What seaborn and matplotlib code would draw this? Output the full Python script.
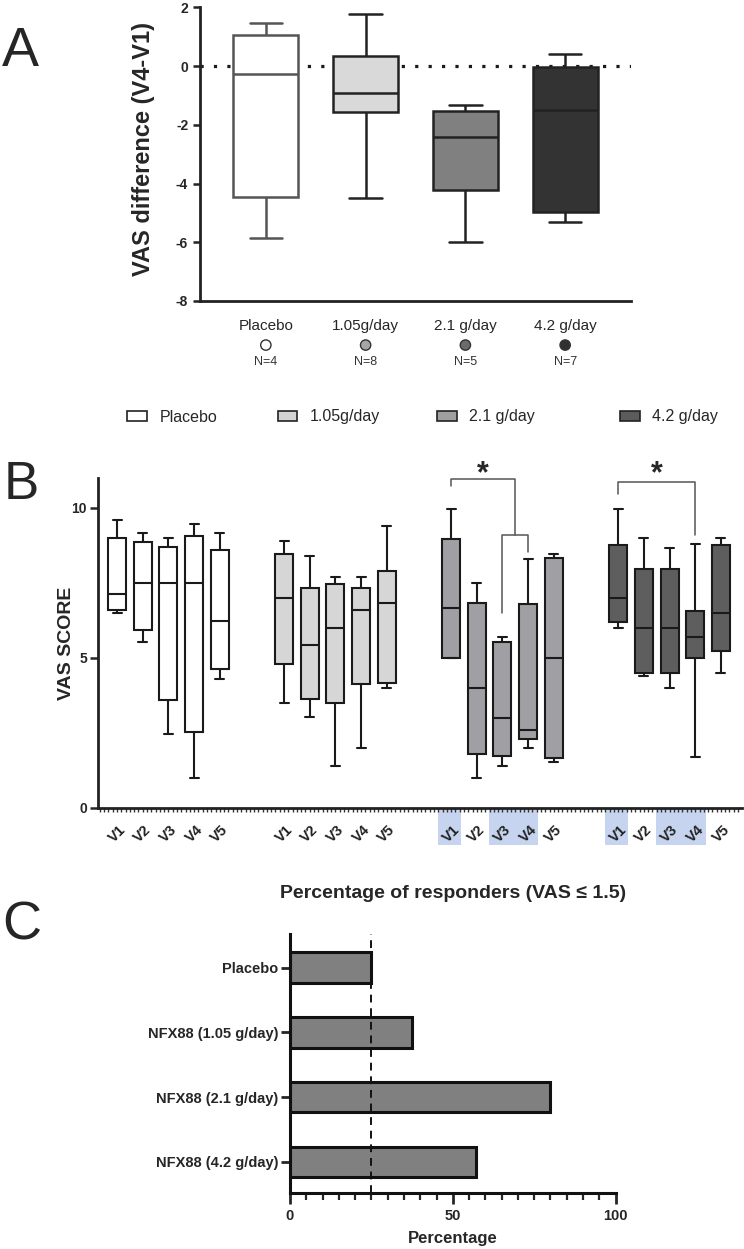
import numpy as np
import pandas as pd
import matplotlib
matplotlib.use("Agg")
import matplotlib.pyplot as plt
from matplotlib.patches import Patch, Rectangle
from matplotlib.ticker import MultipleLocator
import seaborn as sns

sns.set_theme(style="ticks")
plt.rcParams["font.family"] = ["Liberation Sans", "DejaVu Sans"]
plt.rcParams["axes.unicode_minus"] = False

# ---------------- panel A : VAS difference V4-V1 (box summaries)
groups_a = ["Placebo", "1.05g/day", "2.1 g/day", "4.2 g/day"]
n_a = ["N=4", "N=8", "N=5", "N=7"]
diff_min = [-5.85, -4.5, -6.0, -5.3]
diff_q1 = [-4.45, -1.56, -4.22, -4.97]
diff_med = [-0.27, -0.92, -2.41, -1.5]
diff_q3 = [1.07, 0.34, -1.53, -0.02]
diff_max = [1.48, 1.78, -1.31, 0.4]
box_colors_a = ["#ffffff", "#d9d9d9", "#808080", "#333333"]
dot_colors_a = ["#ffffff", "#a6a6a6", "#6b6b6b", "#303030"]

# ---------------- panel B : VAS score per visit and group
groups_b = ["Placebo", "1.05g/day", "2.1 g/day", "4.2 g/day"]
visits = ["V1", "V2", "V3", "V4", "V5"]
vas_min = [[6.5, 5.53, 2.45, 1.0, 4.3],
           [3.5, 3.01, 1.4, 1.99, 4.01],
           [5.0, 1.0, 1.4, 2.0, 1.51],
           [5.99, 4.39, 4.0, 1.7, 4.5]]
vas_q1 = [[6.6, 5.92, 3.59, 2.52, 4.63],
          [4.79, 3.63, 3.49, 4.12, 4.15],
          [5.01, 1.78, 1.72, 2.28, 1.65],
          [6.21, 4.51, 4.51, 5.01, 5.23]]
vas_med = [[7.12, 7.49, 7.49, 7.49, 6.23],
           [6.98, 5.44, 5.99, 6.6, 6.83],
           [6.66, 4.0, 3.0, 2.59, 4.99],
           [6.98, 5.99, 5.99, 5.69, 6.49]]
vas_q3 = [[9.01, 8.86, 8.71, 9.08, 8.61],
          [8.46, 7.33, 7.47, 7.33, 7.9],
          [8.96, 6.82, 5.53, 6.8, 8.32],
          [8.76, 7.96, 7.96, 6.56, 8.76]]
vas_max = [[9.59, 9.18, 8.99, 9.48, 9.18],
           [8.89, 8.39, 7.69, 7.69, 9.39],
           [9.98, 7.51, 5.68, 8.29, 8.47],
           [9.98, 8.99, 8.68, 8.79, 8.99]]
box_colors_b = ["#ffffff", "#d6d6d6", "#a0a0a4", "#5e5e5e"]
legend_colors_b = ["#ffffff", "#d4d4d4", "#a0a0a4", "#5c5c5c"]
# highlighted visit labels: (group, first visit, last visit)
highlights = [(2, 0, 0), (2, 2, 3), (3, 0, 0), (3, 2, 3)]

# ---------------- panel C : responders
resp_labels = ["Placebo", "NFX88 (1.05 g/day)", "NFX88 (2.1 g/day)", "NFX88 (4.2 g/day)"]
resp_pct = [25.0, 37.5, 80.0, 57.1]
placebo_ref = 25.0

W, H = 744, 1249
fig = plt.figure(figsize=(W / 100, H / 100), dpi=100)


def rect(left, top, right, bottom):
    return [left / W, 1 - bottom / H, (right - left) / W, (bottom - top) / H]


# ================= A
axA = fig.add_axes(rect(200, 7.3, 631, 301))
rows = []
for g, lo, a, m, b, hi in zip(groups_a, diff_min, diff_q1, diff_med, diff_q3, diff_max):
    for v in (lo, a, m, b, hi):
        rows.append({"group": g, "diff": v})
df_a = pd.DataFrame(rows)

axA.axhline(0, color="#1a1a1a", lw=2.3, ls=(0, (1, 3.2)), zorder=0.5)
sns.boxplot(data=df_a, x="group", y="diff", hue="group", order=groups_a, hue_order=groups_a,
            palette=box_colors_a, whis=(0, 100), width=0.65, linewidth=1.8,
            linecolor="#222222", showfliers=False, legend=False, saturation=1, ax=axA)
# lighter outline for placebo box
axA.patches[0].set_edgecolor("#555555")
for ln in axA.lines:
    xd = np.asarray(ln.get_xdata(), dtype=float)
    if len(xd) and abs(xd.mean()) < 0.4:
        ln.set_color("#555555")

axA.set_xlim(-0.66, 3.66)
axA.set_ylim(-8, 2)
axA.set_yticks([-8, -6, -4, -2, 0, 2])
axA.set_xlabel("")
axA.set_ylabel("VAS difference (V4-V1)", fontsize=17, fontweight="bold")
axA.yaxis.set_label_coords(-0.105, 0.516)
axA.tick_params(axis="y", length=5, width=1.8, labelsize=10, color="#222222")
axA.tick_params(axis="x", length=0, pad=13, labelsize=11)
for t in axA.get_yticklabels():
    t.set_fontweight("bold")
sns.despine(ax=axA)
for s in ("left", "bottom"):
    axA.spines[s].set_linewidth(2)
    axA.spines[s].set_color("#222222")
xt = axA.get_xaxis_transform()
axA.scatter(range(len(groups_a)), [-0.15] * len(groups_a), s=55, c=dot_colors_a,
            edgecolors="#333333", linewidths=1, transform=xt, clip_on=False, zorder=5)
for i, n in enumerate(n_a):
    axA.text(i, -0.208, n, transform=xt, ha="center", va="center", fontsize=9, color="#333333")

# ================= legend row
legend_x = [127.5, 277.5, 437, 620]
for lx, lab, col in zip(legend_x, groups_b, legend_colors_b):
    h = Patch(facecolor=col, edgecolor="#222222", linewidth=1.2)
    fig.legend(handles=[h], labels=[lab], loc="center left",
               bbox_to_anchor=(lx / W, 1 - 417 / H), frameon=False, fontsize=11.5,
               handlelength=1.25, handleheight=0.6, handletextpad=0.75,
               borderpad=0, borderaxespad=0)

# ================= B
axB = fig.add_axes(rect(98, 478, 742, 807.7))
group_step = 6.5
rows = []
positions = []
for gi, grp in enumerate(groups_b):
    for vi, vis in enumerate(visits):
        pos = gi * group_step + vi
        positions.append(pos)
        for v in (vas_min[gi][vi], vas_q1[gi][vi], vas_med[gi][vi], vas_q3[gi][vi], vas_max[gi][vi]):
            rows.append({"pos": pos, "group": grp, "visit": vis, "vas": v})
df_b = pd.DataFrame(rows)

sns.boxplot(data=df_b, x="pos", y="vas", hue="group", hue_order=groups_b,
            palette=box_colors_b, native_scale=True, dodge=False, width=0.7,
            whis=(0, 100), linewidth=1.5, linecolor="#1a1a1a", showfliers=False,
            legend=False, saturation=1, ax=axB)

axB.set_xlim(-0.74, 24.32)
axB.set_ylim(0, 11)
axB.set_yticks([0, 5, 10])
axB.set_xticks(positions)
axB.set_xticklabels(visits * len(groups_b), rotation=45, fontsize=10.5, fontweight="bold",
                    color="#222222")
axB.xaxis.set_minor_locator(MultipleLocator(1 / 6))
axB.tick_params(axis="x", which="both", length=3, width=1, pad=8, color="#333333")
axB.tick_params(axis="y", length=6, width=1.8, pad=2, labelsize=10)
for t in axB.get_yticklabels():
    t.set_fontweight("bold")
axB.set_xlabel("")
axB.set_ylabel("VAS SCORE", fontsize=14, fontweight="bold")
axB.yaxis.set_label_coords(-0.036, 0.5)
sns.despine(ax=axB)
for s in ("left", "bottom"):
    axB.spines[s].set_linewidth(2)
    axB.spines[s].set_color("#222222")

xtb = axB.get_xaxis_transform()
for gi, v0, v1 in highlights:
    x0 = gi * group_step + v0 - 0.52
    x1 = gi * group_step + v1 + 0.4
    axB.add_patch(Rectangle((x0, -0.113), x1 - x0, 0.109, transform=xtb,
                            facecolor="#c6d4ef", edgecolor="none", clip_on=False, zorder=0))

# significance brackets
br = dict(color="#555555", lw=1.1, clip_on=False)
g2 = 2 * group_step
axB.plot([g2, g2, g2 + 2.5, g2 + 2.5], [10.72, 10.97, 10.97, 9.09], **br)
axB.plot([g2 + 2, g2 + 2, g2 + 3, g2 + 3], [6.48, 9.09, 9.09, 8.53], **br)
axB.text(g2 + 1.25, 10.85, "*", ha="center", va="baseline", fontsize=22, fontweight="bold", clip_on=False)
g3 = 3 * group_step
axB.plot([g3, g3, g3 + 3, g3 + 3], [10.46, 10.88, 10.88, 9.09], **br)
axB.text(g3 + 1.5, 10.85, "*", ha="center", va="baseline", fontsize=22, fontweight="bold", clip_on=False)

# ================= C
axC = fig.add_axes(rect(290, 934, 615.6, 1193))
df_c = pd.DataFrame({"label": resp_labels, "pct": resp_pct})
sns.barplot(data=df_c, x="pct", y="label", orient="h", color="#808080", saturation=1,
            width=0.47, edgecolor="#111111", linewidth=2.2, ax=axC)
axC.axvline(placebo_ref, color="#111111", lw=1.4, ls=(0, (4, 3)), zorder=5)
axC.set_xlim(0, 100)
axC.set_ylim(3.48, -0.52)
axC.set_xticks([0, 50, 100])
axC.xaxis.set_minor_locator(MultipleLocator(5))
axC.tick_params(axis="x", which="major", length=8, width=2, labelsize=10.5)
axC.tick_params(axis="x", which="minor", length=5, width=1.6)
axC.tick_params(axis="y", length=6.5, width=2, pad=2, labelsize=10.5)
for t in axC.get_xticklabels() + axC.get_yticklabels():
    t.set_fontweight("bold")
axC.set_ylabel("")
axC.set_xlabel("Percentage", fontsize=12, fontweight="bold", labelpad=6)
axC.set_title("Percentage of responders (VAS \u2264 1.5)", fontsize=14, fontweight="bold", pad=26)
sns.despine(ax=axC)
for s in ("left", "bottom"):
    axC.spines[s].set_linewidth(2.2)
    axC.spines[s].set_color("#111111")

# panel letters
fig.text(20 / W, 1 - 52 / H, "A", fontsize=40, ha="center", va="center")
fig.text(21 / W, 1 - 485 / H, "B", fontsize=38, ha="center", va="center")
fig.text(22 / W, 1 - 925 / H, "C", fontsize=39, ha="center", va="center")

fig.savefig("out.png", dpi=100)
